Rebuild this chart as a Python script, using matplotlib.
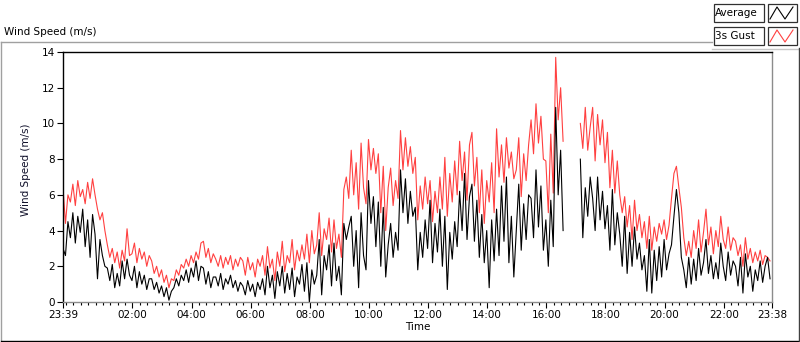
import numpy as np
import matplotlib
matplotlib.use("Agg")
import matplotlib.pyplot as plt
from matplotlib.lines import Line2D
from matplotlib.patches import Rectangle

plt.rcParams['font.family'] = ['DejaVu Sans']

# ---------------- data (5-minute samples starting 23:39) ----------------
nan = float('nan')
gust = [
    6.4, 4.4, 6.0, 5.6, 6.6, 5.4, 6.8, 5.9, 6.3, 5.5, 6.7, 5.8, 6.9,
    6.0, 5.2, 4.6, 5.0, 4.0,
    3.2, 2.5, 3.0, 2.2, 2.8, 1.9, 2.9, 2.3, 4.1, 2.6,
    2.7, 3.3, 2.2, 3.0, 2.4, 2.8, 2.0, 2.6,
    2.3, 1.6, 2.0, 1.4, 1.8, 1.1, 1.5, 0.8, 1.3,
    1.2, 1.8, 1.5, 2.1, 1.9, 2.4, 2.0, 2.6, 2.2, 2.8, 2.4, 3.3,
    3.4, 2.5, 3.0, 2.2, 2.7,
    2.4, 2.0, 2.6, 1.9, 2.5, 2.1, 2.6, 1.8, 2.4, 2.0, 2.5,
    2.3, 1.5, 2.5, 1.8, 2.2, 1.4, 2.4, 2.0,
    2.6, 1.5, 3.1, 1.9, 2.4, 1.2, 2.8, 2.0, 3.4, 1.7, 2.6, 2.2, 3.5, 1.8, 2.9, 2.3, 3.2,
    2.4, 3.8, 2.2, 4.0, 2.7,
    3.2, 5.0, 2.6, 4.1, 3.5, 4.7, 2.8,
    4.6, 3.0, 3.8, 2.5,
    6.3, 7.0, 5.8,
    8.5, 6.0, 7.8, 5.2, 8.9, 6.4, 5.5,
    9.1, 7.4, 8.6, 7.2, 8.3,
    5.0, 7.6, 4.0,
    6.4, 7.5, 5.4, 6.8, 5.8, 9.6,
    7.4, 9.2, 7.6, 8.7, 7.2,
    8.1, 4.6, 6.5, 5.2, 7.0,
    5.5, 6.8, 4.5, 6.2, 5.0, 7.0,
    5.2, 8.1, 4.8, 7.2, 5.6,
    7.9, 6.0, 9.0, 6.8, 8.4, 5.7, 8.8, 9.5,
    6.5, 8.1, 5.0, 7.4, 4.4, 6.8,
    5.6, 7.8, 5.0,
    9.7, 7.0, 8.8, 6.7, 9.2, 7.5, 8.4, 6.9,
    7.4, 9.2, 5.9, 8.3, 6.8, 8.8,
    10.2, 8.3, 11.1, 8.9, 10.4, 8.0,
    7.9, 5.0, 9.4, 6.1,
    13.7, 10.2, 12.0, 9.0,
    nan, nan, nan, nan, nan, nan,
    10.0, 8.6, 10.9, 8.5, 9.8,
    10.9, 7.9, 10.5, 8.8, 10.2, 7.8,
    9.5, 6.4, 8.5, 6.1, 7.9, 6.0,
    5.0,
    5.9, 4.2, 5.4, 3.5, 5.7, 4.0, 4.9, 3.6,
    4.5, 3.0, 4.8, 2.9, 4.2, 3.4, 4.4,
    3.8, 4.6, 3.5, 4.3,
    5.8, 7.2, 7.6, 6.4, 5.3,
    3.6, 2.6, 3.4, 2.5,
    4.0, 3.0, 4.6, 2.8, 3.9, 5.2, 3.2, 4.2, 2.7,
    4.0, 3.1, 4.8, 3.5, 3.0, 4.2, 2.9, 3.6,
    3.4, 2.6, 3.2, 2.0, 3.6, 2.4, 3.0, 2.2,
    2.8, 2.3, 2.9, 2.1, 2.6, 2.5, 2.3,
]
average = [
    3.0, 2.6, 4.5, 3.6, 5.0, 3.3, 4.8, 3.9, 5.2, 3.1, 4.6, 2.5, 4.9,
    3.8, 1.3, 3.5, 2.6, 2.0,
    1.9, 1.2, 2.1, 0.8, 1.6, 0.9, 2.3, 1.3, 2.4, 1.5,
    1.2, 2.0, 0.8, 1.7, 1.0, 1.5, 0.7, 1.3,
    1.3, 0.7, 1.1, 0.5, 0.9, 0.3, 0.8, 0.1, 0.6,
    0.8, 1.3, 0.9, 1.5, 1.2, 1.8, 1.1, 1.9, 1.4, 2.3, 1.2, 2.0,
    1.9, 1.0, 1.7, 0.8, 1.4,
    1.4, 0.9, 1.6, 0.7, 1.3, 1.0, 1.5, 0.8, 1.2, 0.6, 1.1,
    0.9, 0.4, 1.2, 0.6, 1.0, 0.3, 1.1, 0.7,
    1.3, 0.4, 2.0, 0.8, 1.5, 0.2, 1.7, 0.9, 2.0, 0.5, 1.6, 0.7, 1.9, 0.3, 1.4, 1.0, 2.1,
    0.6, 2.2, 0.0, 1.8, 1.0,
    1.5, 3.5, 0.4, 2.6, 1.8, 3.2, 0.9,
    3.3, 1.2, 2.0, 0.4,
    4.4, 3.5, 4.2,
    4.8, 2.0, 4.0, 0.8, 5.0, 2.6, 1.8,
    6.8, 4.4, 5.9, 3.1, 5.6,
    2.0, 5.3, 1.4,
    3.2, 4.4, 2.5, 3.9, 2.9, 7.4,
    5.0, 6.9, 4.4, 6.2, 4.8,
    5.3, 1.8, 3.9, 2.5, 4.6,
    3.0, 5.7, 2.2, 4.4, 2.8, 5.2,
    2.0, 4.8, 0.7, 3.9, 2.4,
    4.5, 3.1, 6.2, 4.0, 7.2, 3.5, 5.9, 6.6,
    3.4, 5.7, 2.5, 4.9, 2.2, 4.0,
    0.8, 4.6, 2.3,
    5.2, 2.6, 6.5, 3.4, 7.0, 2.2, 4.8, 1.4,
    4.0, 6.6, 2.9, 5.5, 3.5, 6.0,
    5.8, 3.6, 7.4, 4.2, 6.5, 2.9,
    4.6, 2.0, 5.7, 3.1,
    10.9, 6.0, 8.5, 4.0,
    nan, nan, nan, nan, nan, nan,
    8.0, 3.6, 6.4, 4.8, 7.0,
    5.8, 4.0, 7.0, 4.6, 6.2, 4.1,
    5.4, 2.9, 6.3, 3.2, 5.0, 3.8,
    2.0,
    4.8, 1.6, 3.9, 2.0, 4.2, 2.4, 3.3, 1.8,
    2.6, 0.6, 3.5, 0.5, 2.9, 1.2, 3.1,
    1.4, 3.5, 1.8, 2.7,
    3.2, 4.8, 6.3, 5.0, 2.5,
    1.8, 0.8, 2.5, 1.0,
    2.4, 1.2, 3.0, 1.5, 2.2, 3.5, 1.6, 2.6, 1.3,
    2.2, 1.3, 3.3, 2.0, 1.2, 2.8, 1.5, 2.3,
    2.0, 0.9, 2.5, 0.5, 2.7, 1.4, 2.0, 0.6,
    1.8, 1.2, 2.3, 1.1, 2.0, 2.5, 1.3,
]
series_names = ["Average", "3s Gust"]
start_time = "23:39"
major_labels = ["23:39", "02:00", "04:00", "06:00", "08:00", "10:00", "12:00",
                "14:00", "16:00", "18:00", "20:00", "22:00", "23:38"]
y_ticks = [0, 2, 4, 6, 8, 10, 12, 14]

# ---------------- helpers ----------------
W, H = 800, 342
def fx(x): return x / W
def fy(y): return 1 - y / H

def to_min(s):
    h, m = map(int, s.split(":"))
    h0, m0 = map(int, start_time.split(":"))
    return ((h * 60 + m) - (h0 * 60 + m0)) % 1440

t_g = np.arange(len(gust)) * 5
t_a = np.arange(len(average)) * 5

fig = plt.figure(figsize=(8, 3.42), dpi=100)
fig.patch.set_facecolor("white")
ax = fig.add_axes([fx(63), fy(302), fx(772) - fx(63), fy(52) - fy(302)])

ax.plot(t_g, gust, color="#ff4040", lw=0.8, zorder=2)
ax.plot(t_a, average, color="black", lw=0.8, zorder=3)

ax.set_xlim(0, 1439)
ax.set_ylim(0, 14)
ax.set_yticks(y_ticks)
ax.set_yticklabels([str(v) for v in y_ticks])
maj = [to_min(s) for s in major_labels]
ax.set_xticks(maj)
ax.set_xticklabels(major_labels)
ax.set_xticks(np.arange(6, 1439, 15), minor=True)

ax.tick_params(axis="both", which="major", labelsize=7.5, colors="black",
               length=4, width=0.8, direction="out", pad=2)
ax.tick_params(axis="x", which="minor", length=2.5, width=0.8, direction="out")
ax.tick_params(axis="y", which="minor", length=0)

for s in ["left", "top"]:
    ax.spines[s].set_color("black")
    ax.spines[s].set_linewidth(1.0)
for s in ["right", "bottom"]:
    ax.spines[s].set_color("#8c8c8c")
    ax.spines[s].set_linewidth(1.0)

ax.set_ylabel("Wind Speed (m/s)", fontsize=7.5, color="#10102a")
ax.yaxis.set_label_coords(-0.045, 0.53)
ax.set_xlabel("Time", fontsize=7.5, color="black", labelpad=1)

# ---------------- frame & title ----------------
def fline(x0, y0, x1, y1, color, lw=1.0):
    fig.add_artist(Line2D([fx(x0), fx(x1)], [fy(y0), fy(y1)],
                          transform=fig.transFigure, color=color, lw=lw))

fline(1, 42, 712, 42, "#a0a0a0")
fline(712, 48.5, 799, 48.5, "#c8c8c8")
fline(1, 42, 1, 340, "#a0a0a0")
fline(1, 340.5, 799, 340.5, "black")
fline(798.5, 48, 798.5, 341, "#404040")

fig.text(fx(4), fy(32), "Wind Speed (m/s)", fontsize=7.5, va="center", ha="left")

# ---------------- legend ----------------
leg_colors = ["black", "#ff4040"]
for k, (name, col) in enumerate(zip(series_names, leg_colors)):
    y0 = 4 + 23 * k
    fig.add_artist(Rectangle((fx(713.5), fy(y0 + 18)), fx(50), fy(0) - fy(18),
                             transform=fig.transFigure, facecolor="white",
                             edgecolor="#303030", lw=0.9))
    fig.add_artist(Rectangle((fx(767.5), fy(y0 + 18)), fx(29), fy(0) - fy(18),
                             transform=fig.transFigure, facecolor="white",
                             edgecolor="#303030", lw=0.9))
    fig.text(fx(715), fy(y0 + 9), name, fontsize=7.5, va="center", ha="left")
    xs = [770, 777, 785, 793]
    ys = [y0 + 15, y0 + 3, y0 + 15, y0 + 3]
    fig.add_artist(Line2D([fx(v) for v in xs], [fy(v) for v in ys],
                          transform=fig.transFigure, color=col, lw=0.8))

fig.savefig("out.png", dpi=100, facecolor="white")
